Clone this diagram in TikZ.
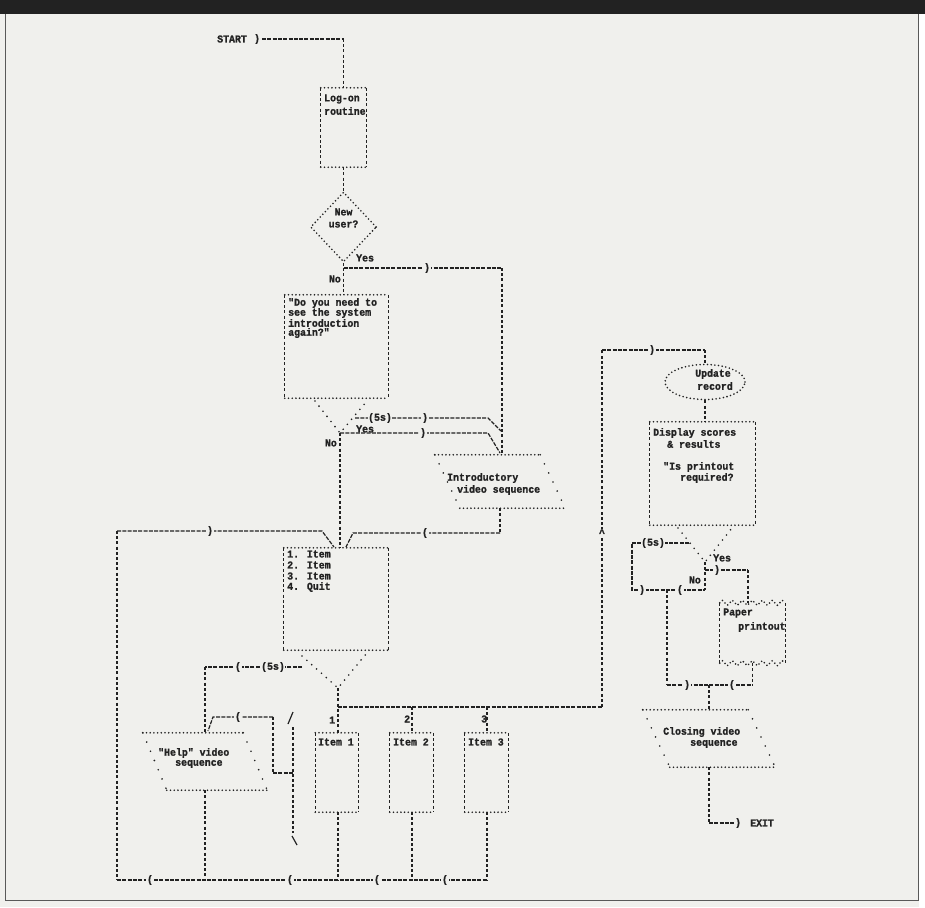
\documentclass[tikz,border=0pt]{standalone}
\usepackage{fontspec}
\newfontfamily\pf{Liberation Mono}[FakeStretch=0.94, BoldFeatures={FakeBold=1.3}]
\usetikzlibrary{shapes.geometric,decorations.pathmorphing}
\definecolor{ink}{HTML}{222222}
\definecolor{paperbg}{HTML}{F0F0ED}
\tikzset{
  lbl/.style={font=\pf\bfseries\fontsize{10.5}{11.5}\selectfont, inner sep=0pt, anchor=west, text=ink},
  ah/.style={lbl, anchor=center, fill=paperbg, inner xsep=0.6pt, inner ysep=0.5pt},
  conn/.style={draw=ink, line width=1.2pt, dash pattern=on 4pt off 1.3pt},
  vconn/.style={draw=ink, line width=1.2pt, dash pattern=on 3pt off 2.2pt},
  dots/.style={draw=ink, line width=1.8pt, line cap=round, dash pattern=on 0pt off 3.7pt},
  sdots/.style={draw=ink, line width=1.8pt, line cap=round, dash pattern=on 0pt off 10pt},
  fdots/.style={draw=ink, line width=1.8pt, line cap=round, dash pattern=on 0pt off 6.5pt},
  boxn/.style={rectangle, inner sep=0pt, draw=none},
}
\newcommand\asciibox[1]{%
  \draw[dots] (#1.north west) -- (#1.north east);
  \draw[dots] (#1.south west) -- (#1.south east);
  \draw[vconn] (#1.north west) -- (#1.south west);
  \draw[vconn] (#1.north east) -- (#1.south east);}
\newcommand\slantbox[2]{%
  \draw[dots] (#1.north west) -- ([xshift=-#2]#1.north east);
  \draw[dots] ([xshift=#2]#1.south west) -- (#1.south east);
  \draw[sdots] (#1.north west) -- ([xshift=#2]#1.south west);
  \draw[sdots] ([xshift=-#2]#1.north east) -- (#1.south east);}
\begin{document}
\begin{tikzpicture}[x=1pt,y=-1pt]
\useasboundingbox (0,0) rectangle (925,907);
\fill[paperbg] (0,0) rectangle (925,907);
\fill[white] (919,14) rectangle (925,907);
\fill[ink] (0,0) rectangle (925,14);
\draw[ink!75, line width=0.8pt] (5,14) -- (5,900) -- (918,900) -- (918,14);

% ---------- boxes ----------
\node[boxn, minimum width=45pt, minimum height=79pt] (logon) at (343.5,127.5) {};
\node[diamond, dots, inner sep=0pt, minimum width=66pt, minimum height=70pt] (newu) at (343.5,227) {};
\node[boxn, minimum width=103pt, minimum height=103pt] (dq) at (336.5,346.5) {};
\node[boxn, minimum width=130pt, minimum height=53pt] (intro) at (500,481.5) {};
\node[boxn, minimum width=104pt, minimum height=102pt] (menu) at (336,599) {};
\node[boxn, minimum width=124pt, minimum height=57pt] (help) at (205,761.5) {};
\node[boxn, minimum width=43pt, minimum height=79pt] (item1) at (337,772.5) {};
\node[boxn, minimum width=43pt, minimum height=79pt] (item2) at (411.5,772.5) {};
\node[boxn, minimum width=43pt, minimum height=79pt] (item3) at (486.5,772.5) {};
\node[ellipse, dots, inner sep=0pt, minimum width=80pt, minimum height=35pt] (upd) at (705,382) {};
\node[boxn, minimum width=105pt, minimum height=103pt] (disp) at (702.5,473.5) {};
\node[boxn, minimum width=65pt, minimum height=60pt] (paper) at (752.5,633) {};
\node[boxn, minimum width=132pt, minimum height=57pt] (close) at (709,738.5) {};

\asciibox{logon}
\asciibox{dq}
\asciibox{menu}
\asciibox{item1}
\asciibox{item2}
\asciibox{item3}
\asciibox{disp}
\slantbox{intro}{25pt}
\slantbox{help}{24pt}
\slantbox{close}{27pt}
\draw[vconn] (paper.north west) -- (paper.south west);
\draw[vconn] (paper.north east) -- (paper.south east);
\draw[dots, decorate, decoration={zigzag, segment length=10pt, amplitude=2.5pt}] (paper.north west) -- (paper.north east);
\draw[dots, decorate, decoration={zigzag, segment length=10pt, amplitude=2.5pt}] (paper.south west) -- (paper.south east);

% funnels (decision outlets)
\coordinate (v1) at (340,433);
\draw[fdots] (315,401) -- (v1) -- (367,401);
\coordinate (v2) at (338,688);
\draw[fdots] (302,656) -- (v2) -- (366,654);
\coordinate (v3) at (705,562);
\draw[fdots] (678,528) -- (v3) -- (732,528);

% ---------- connectors ----------
\coordinate (s1) at (343.5,39);
\coordinate (j1) at (343.5,268);
\coordinate (c2) at (502,268);
\draw[conn] (262,39) -- (s1);
\draw[vconn] (s1) -- (logon.north);
\draw[vconn] (logon.south) -- (newu.north);
\draw[vconn] (newu.south) -- (j1) -- (j1 |- dq.north);
\draw[conn] (j1) -- (c2);
\draw[vconn] (c2) -- (c2 |- intro.north);

\coordinate (q5) at (355,418);
\draw[conn] (q5) -- (488,418) -- (501,431);
\draw[conn] (v1) -- (488,433) -- (500,453);
\draw[vconn] (v1) -- (v1 |- menu.north);

\coordinate (L1) at (117,531);
\draw[conn] (L1) -- (322,531) -- (334,547);
\coordinate (r1) at (500,533);
\draw[vconn] (r1 |- intro.south) -- (r1);
\draw[conn] (r1) -- (353,533) -- (346,547);

\coordinate (h1) at (205,667);
\draw[conn] (302,667) -- (h1);
\draw[vconn] (h1) -- (h1 |- help.north);
\coordinate (h2) at (273,717);
\draw[conn] (h2) -- (213,717) -- (208,731);
\draw[vconn] (h2) -- (273,773);
\draw[conn] (273,773) -- (293,773);
\draw[ink, line width=1.2pt] (288,724) -- (293,712);
\draw[vconn] (293,727) -- (293,833);
\draw[ink, line width=1.2pt] (292,836) -- (297,845);

\coordinate (j2) at (338,707);
\coordinate (j3) at (602,707);
\coordinate (j4) at (602,350);
\coordinate (j4b) at (705,350);
\draw[vconn] (v2) -- (j2) -- (j2 |- item1.north);
\draw[conn] (j2) -- (j3);
\draw[vconn] (j3) -- (j4);
\draw[conn] (j4) -- (j4b);
\draw[vconn] (j4b) -- (upd.north);
\draw[vconn] (412,707) -- (412,733);
\draw[vconn] (487,707) -- (487,733);

\coordinate (b0) at (117,880);
\draw[vconn] (L1) -- (b0);
\draw[conn] (b0) -- (487,880);
\draw[vconn] (h1 |- help.south) -- (h1 |- b0);
\draw[vconn] (338,812) -- (338,880);
\draw[vconn] (412,812) -- (412,880);
\draw[vconn] (487,812) -- (487,880);

\draw[vconn] (upd.south) -- (upd.south |- disp.north);
\coordinate (d5) at (689,543);
\draw[conn] (d5) -- (632,543) -- (632,590) -- (705,590);
\draw[vconn] (v3) -- (705,590);
\draw[conn] (705,570) -- (748,570);
\draw[vconn] (748,570) -- (748,603);
\draw[vconn] (667,590) -- (667,685);
\draw[vconn] (paper.south) -- (752.5,685);
\draw[conn] (667,685) -- (752.5,685);
\draw[vconn] (709,685) -- (close.north);
\coordinate (ex) at (709,823);
\draw[vconn] (close.south) -- (ex);
\draw[conn] (ex) -- (736,823);

% ---------- arrow marks ----------
\node[ah] at (257,39) {)};
\node[ah] at (427,268) {)};
\node[ah] at (380,418) {(5s)};
\node[ah] at (425,418) {)};
\node[ah] at (423,433) {)};
\node[ah] at (210,531) {)};
\node[ah] at (425,533) {(};
\node[ah] at (602,533) {\textasciicircum};
\node[ah] at (273,667) {(5s)};
\node[ah] at (238,667) {(};
\node[ah] at (238,717) {(};
\node[ah] at (150,880) {(};
\node[ah] at (290,880) {(};
\node[ah] at (377,880) {(};
\node[ah] at (445,880) {(};
\node[ah] at (652,350) {)};
\node[ah] at (653,543) {(5s)};
\node[ah] at (717,570) {)};
\node[ah] at (642,590) {)};
\node[ah] at (680,590) {(};
\node[ah] at (687,685) {)};
\node[ah] at (732,685) {(};
\node[ah] at (738,823) {)};

% ---------- texts ----------
\node[lbl] (tstart) at (217,39) {START};
\node[lbl] at (324,99) {Log-on};
\node[lbl] at (324,111) {routine};
\node[lbl, anchor=center] at (343.5,212) {New};
\node[lbl, anchor=center] at (343.5,224) {user?};
\node[lbl] at (356,258) {Yes};
\node[lbl, anchor=east] at (341,279) {No};
\node[lbl] at (288,303) {"Do you need to};
\node[lbl] at (288,313) {see the system};
\node[lbl] at (288,323) {introduction};
\node[lbl] at (288,333) {again?"};
\node[lbl] at (356,429) {Yes};
\node[lbl, anchor=east] at (337,443) {No};
\node[lbl] at (447,478) {Introductory};
\node[lbl] at (457,490) {video sequence};
\node[lbl] at (287,554) {1. Item};
\node[lbl] at (287,565) {2. Item};
\node[lbl] at (287,576) {3. Item};
\node[lbl] at (287,587) {4. Quit};
\node[lbl] at (329,720) {1};
\node[lbl] at (404,719) {2};
\node[lbl] at (481,719) {3};
\node[lbl] at (318,742) {Item 1};
\node[lbl] at (393,742) {Item 2};
\node[lbl] at (468,742) {Item 3};
\node[lbl] at (158,753) {"Help" video};
\node[lbl] at (175,764) {sequence};
\node[lbl] at (695,374) {Update};
\node[lbl] at (697,386) {record};
\node[lbl] at (653,433) {Display scores};
\node[lbl] at (667,444) {\& results};
\node[lbl] at (663,467) {"Is printout};
\node[lbl] at (680,478) {required?};
\node[lbl] at (713,558) {Yes};
\node[lbl, anchor=east] at (701,580) {No};
\node[lbl] at (723,613) {Paper};
\node[lbl] at (738,627) {printout};
\node[lbl] at (663,732) {Closing video};
\node[lbl] at (690,744) {sequence};
\node[lbl] at (750,823) {EXIT};
\end{tikzpicture}
\end{document}
